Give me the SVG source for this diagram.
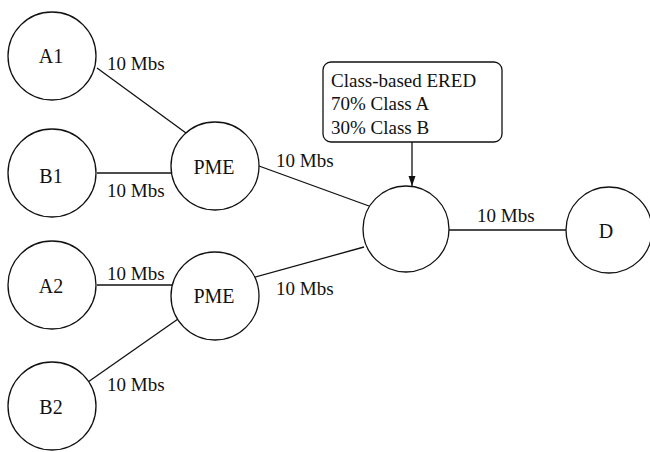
<svg xmlns="http://www.w3.org/2000/svg" width="650" height="452" viewBox="0 0 650 452">
<defs>
<style>
.n{fill:#fff;stroke:#111;stroke-width:1.3}
.e{stroke:#111;stroke-width:1.3;fill:none}
text{font-family:"Liberation Serif","Times New Roman",serif;font-size:19px;fill:#111}
.c{text-anchor:middle;font-size:20px}
</style>
<marker id="ah" viewBox="0 0 10 10" refX="10" refY="5" markerWidth="10" markerHeight="10" markerUnits="userSpaceOnUse" orient="auto">
<path d="M0,1.5 L10,5 L0,8.5 Z" fill="#111"/>
</marker>
</defs>
<rect width="650" height="452" fill="#fff"/>
<g id="connectors">
<line class="e" x1="97" y1="68" x2="186" y2="133"/>
<line class="e" x1="97" y1="173" x2="171" y2="173"/>
<line class="e" x1="259" y1="166" x2="369" y2="206"/>
<line class="e" x1="97" y1="285" x2="172" y2="285"/>
<line class="e" x1="88" y1="382" x2="178" y2="319"/>
<line class="e" x1="252" y1="278" x2="364" y2="247"/>
<line class="e" x1="449" y1="230" x2="566" y2="230"/>
<line class="e" x1="412" y1="142" x2="412" y2="186" marker-end="url(#ah)"/>
<text x="107" y="70">10 Mbs</text>
<text x="107" y="197">10 Mbs</text>
<text x="276" y="167">10 Mbs</text>
<text x="107" y="280">10 Mbs</text>
<text x="276" y="295">10 Mbs</text>
<text x="107" y="391">10 Mbs</text>
<text x="477" y="222">10 Mbs</text>
</g>
<g id="A1"><circle class="n" cx="52" cy="56" r="44"/><text class="c" x="51" y="63">A1</text></g>
<g id="B1"><circle class="n" cx="52" cy="173" r="44"/><text class="c" x="51" y="183">B1</text></g>
<g id="A2"><circle class="n" cx="52" cy="285" r="44"/><text class="c" x="51" y="293">A2</text></g>
<g id="B2"><circle class="n" cx="52" cy="406" r="44"/><text class="c" x="51" y="414">B2</text></g>
<g id="PME1"><circle class="n" cx="215" cy="166" r="44"/><text class="c" x="214" y="174">PME</text></g>
<g id="PME2"><circle class="n" cx="215" cy="296" r="44"/><text class="c" x="214" y="303">PME</text></g>
<g id="router"><circle class="n" cx="406" cy="229" r="43"/></g>
<g id="D"><circle class="n" cx="609" cy="230" r="43"/><text class="c" x="606" y="238">D</text></g>
<g id="note">
<rect class="n" x="323" y="62" width="179" height="80" rx="8"/>
<text x="331" y="87">Class-based ERED</text>
<text x="331" y="110">70% Class A</text>
<text x="331" y="134">30% Class B</text>
</g>
</svg>
